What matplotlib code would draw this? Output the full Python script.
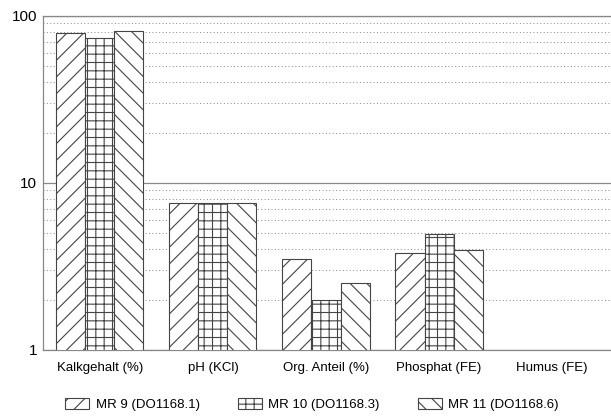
import numpy as np
import matplotlib
matplotlib.use('Agg')
import matplotlib.pyplot as plt
from matplotlib.patches import Patch

plt.rcParams['font.family'] = ['Liberation Sans', 'DejaVu Sans']
plt.rcParams['hatch.linewidth'] = 0.8
plt.rcParams['hatch.color'] = '#444444'

# data
categories = ['Kalkgehalt (%)', 'pH (KCl)', 'Org. Anteil (%)', 'Phosphat (FE)', 'Humus (FE)']
series = ['MR 9 (DO1168.1)', 'MR 10 (DO1168.3)', 'MR 11 (DO1168.6)']
mr9 = [79, 7.6, 3.5, 3.8, np.nan]
mr10 = [74, 7.6, 2.0, 4.95, np.nan]
mr11 = [81, 7.6, 2.5, 3.95, np.nan]
hatches = ['//', '++', '\\\\']

fig = plt.figure(figsize=(6.11, 4.17), dpi=100)
ax = fig.add_axes([0.070, 0.161, 0.93, 0.801])

x = np.arange(len(categories))
w = 0.257
for i, (vals, h, lab) in enumerate(zip([mr9, mr10, mr11], hatches, series)):
    ax.bar(x + (i - 1) * w, vals, w, bottom=0, color='white', edgecolor='#444444',
           linewidth=0.8, hatch=h, label=lab, zorder=3)

ax.set_yscale('log')
ax.set_ylim(1, 100)
ax.set_xlim(-0.504, 4.52)
ax.set_yticks([1, 10, 100])
ax.set_yticklabels(['1', '10', '100'], fontsize=11)
ax.set_xticks(x)
ax.set_xticklabels(categories, fontsize=9.5)
ax.tick_params(axis='x', length=0, pad=9)
ax.tick_params(axis='y', length=0, pad=4)
ax.tick_params(axis='y', which='minor', length=0)

ax.grid(True, axis='y', which='minor', linestyle=(0, (1, 2.5)), color='#888888', linewidth=0.7, zorder=0)
ax.grid(True, axis='y', which='major', linestyle='-', color='#888888', linewidth=0.9, zorder=0)

ax.spines['right'].set_visible(False)
for s in ['left', 'bottom', 'top']:
    ax.spines[s].set_color('#888888')
    ax.spines[s].set_linewidth(0.9)

handles = [Patch(facecolor='white', edgecolor='#444444', hatch=h, linewidth=0.8) for h in hatches]
fig.legend(handles, series, loc='center', bbox_to_anchor=(0.511, 0.029), ncol=3,
           frameon=False, fontsize=9.5, handlelength=1.8, handleheight=0.9,
           columnspacing=2.9, handletextpad=0.5)

plt.savefig('out.png', dpi=100)
